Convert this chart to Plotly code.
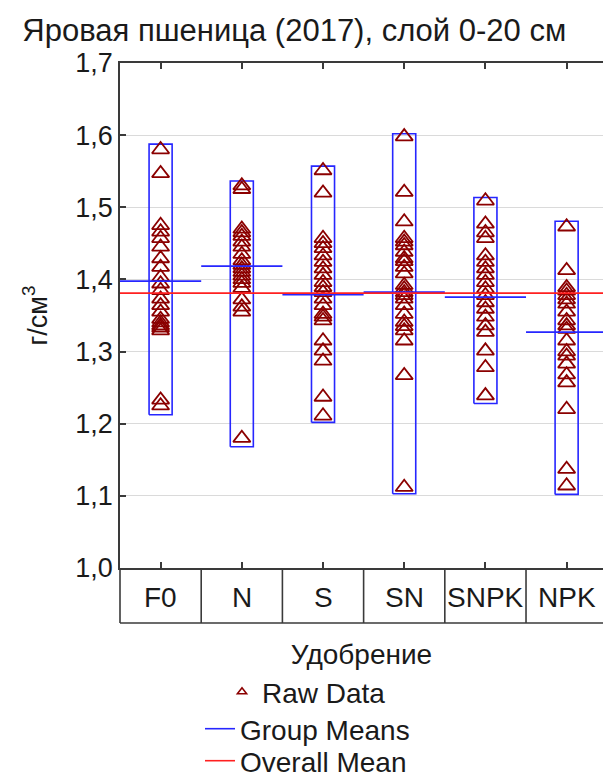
import plotly.graph_objects as go

# ---------------- data ----------------
categories = ["F0", "N", "S", "SN", "SNPK", "NPK"]

raw_F0 = [1.580, 1.547, 1.475, 1.466, 1.457, 1.445, 1.429, 1.417, 1.403, 1.394,
          1.385, 1.373, 1.364, 1.355, 1.345, 1.340, 1.336, 1.333, 1.329, 1.233, 1.225]
raw_N = [1.530, 1.525, 1.470, 1.465, 1.460, 1.452, 1.445, 1.435, 1.426, 1.420,
         1.415, 1.410, 1.405, 1.400, 1.395, 1.388, 1.372, 1.362, 1.355, 1.180]
raw_S = [1.551, 1.520, 1.457, 1.450, 1.443, 1.433, 1.424, 1.415, 1.406, 1.396,
         1.389, 1.382, 1.373, 1.364, 1.352, 1.348, 1.343, 1.315, 1.301, 1.287, 1.237, 1.211]
raw_SN = [1.598, 1.521, 1.480, 1.457, 1.452, 1.447, 1.438, 1.429, 1.425, 1.417, 1.408,
          1.392, 1.387, 1.382, 1.378, 1.373, 1.364, 1.352, 1.341, 1.335, 1.329, 1.315,
          1.267, 1.112]
raw_SNPK = [1.509, 1.477, 1.465, 1.457, 1.433, 1.424, 1.415, 1.406, 1.396, 1.387,
            1.378, 1.368, 1.359, 1.348, 1.336, 1.327, 1.301, 1.278, 1.239]
raw_NPK = [1.473, 1.4125, 1.389, 1.384, 1.378, 1.372, 1.366, 1.355, 1.343, 1.336,
           1.331, 1.315, 1.300, 1.294, 1.283, 1.268, 1.257, 1.220, 1.137, 1.114]

raw_data = [raw_F0, raw_N, raw_S, raw_SN, raw_SNPK, raw_NPK]

group_means = [1.3976, 1.4185, 1.379, 1.3824, 1.3755, 1.327]
box_low = [1.2125, 1.168, 1.2018, 1.103, 1.228, 1.102]
box_high = [1.5875, 1.5365, 1.557, 1.602, 1.5135, 1.4806]
overall_mean = 1.381

y_ticks = [1.0, 1.1, 1.2, 1.3, 1.4, 1.5, 1.6, 1.7]

# ---------------- styling ----------------
FONT = "Liberation Sans, Arial, sans-serif"
TXT = "#1a1a1a"
FRAME = "#3a3a3a"
RAW_COL = "#8b0000"
BLUE = "#2626ff"
RED = "#ff2020"

X_RANGE = [-0.5, 5.448]
BOX_HALF = 0.142

fig = go.Figure()

# range boxes
for i, cat in enumerate(categories):
    fig.add_trace(go.Scatter(
        x=[i - BOX_HALF, i + BOX_HALF, i + BOX_HALF, i - BOX_HALF, i - BOX_HALF],
        y=[box_low[i], box_low[i], box_high[i], box_high[i], box_low[i]],
        mode="lines", line=dict(color=BLUE, width=1.6),
        showlegend=False, hoverinfo="skip"))

# raw data
xs, ys = [], []
for i, vals in enumerate(raw_data):
    xs += [i] * len(vals)
    ys += vals
fig.add_trace(go.Scatter(
    x=xs, y=ys, mode="markers",
    marker=dict(symbol="triangle-up-open", size=15, color=RAW_COL,
                line=dict(width=1.8, color=RAW_COL)),
    showlegend=False, name="Raw Data"))

# group means
for i, m in enumerate(group_means):
    fig.add_trace(go.Scatter(
        x=[i - 0.5, i + 0.5], y=[m, m], mode="lines",
        line=dict(color=BLUE, width=1.6), showlegend=False, hoverinfo="skip"))

# overall mean
fig.add_trace(go.Scatter(
    x=[-0.5, 5.5], y=[overall_mean, overall_mean], mode="lines",
    line=dict(color=RED, width=1.6), showlegend=False, hoverinfo="skip"))

# legend-only traces
fig.add_trace(go.Scatter(
    x=[None], y=[None], mode="markers", name="Raw Data",
    marker=dict(symbol="triangle-up-open", size=8, color=RAW_COL,
                line=dict(width=1.6, color=RAW_COL)),
    legend="legend"))
fig.add_trace(go.Scatter(
    x=[None], y=[None], mode="lines", name="Group Means",
    line=dict(color=BLUE, width=1.6), legend="legend2"))
fig.add_trace(go.Scatter(
    x=[None], y=[None], mode="lines", name="Overall Mean",
    line=dict(color=RED, width=1.6), legend="legend3"))

# category table under the axis
PLOT_TOP, PLOT_BOT = 63, 568
plot_h = PLOT_BOT - PLOT_TOP
table_bottom = -(623 - PLOT_BOT) / plot_h
span = X_RANGE[1] - X_RANGE[0]
shapes = [dict(type="line", xref="paper", yref="paper", x0=0, x1=1,
               y0=table_bottom, y1=table_bottom, line=dict(color=FRAME, width=1.6))]
for k in range(len(categories) + 1):
    xp = (k - 0.5 - X_RANGE[0]) / span
    if xp > 1:
        continue
    shapes.append(dict(type="line", xref="paper", yref="paper", x0=xp, x1=xp,
                       y0=table_bottom, y1=0, line=dict(color=FRAME, width=1.6)))

annotations = []
for i, cat in enumerate(categories):
    annotations.append(dict(x=i, xref="x", y=-(597 - PLOT_BOT) / plot_h, yref="paper",
                            text=cat, showarrow=False, xanchor="center", yanchor="middle",
                            font=dict(family=FONT, size=28, color=TXT)))

def leg(xpx, ypx):
    return dict(x=(xpx - 120) / 483, y=(PLOT_BOT - ypx) / plot_h, xanchor="left",
                yanchor="middle", font=dict(family=FONT, size=28, color=TXT),
                bgcolor="rgba(0,0,0,0)", borderwidth=0)

fig.update_layout(
    width=603, height=778,
    margin=dict(l=120, r=0, t=PLOT_TOP, b=778 - PLOT_BOT, autoexpand=False),
    paper_bgcolor="white", plot_bgcolor="white",
    separators=", ",
    font=dict(family=FONT, color=TXT),
    title=dict(text="Яровая пшеница (2017), слой 0-20 см", x=0.488, xanchor="center",
               y=1 - 30 / 778, yanchor="middle", font=dict(family=FONT, size=31, color=TXT)),
    xaxis=dict(range=X_RANGE, tickvals=list(range(len(categories))), showticklabels=False,
               ticks="inside", ticklen=6, tickwidth=1.5, tickcolor=FRAME,
               showline=True, linecolor=FRAME, linewidth=1.6, mirror="ticks",
               showgrid=False, zeroline=False,
               title=dict(text="Удобрение", standoff=76,
                          font=dict(family=FONT, size=28, color=TXT))),
    yaxis=dict(range=[1.0, 1.7], tickvals=y_ticks, tickformat=".1f",
               ticks="inside", ticklen=6, tickwidth=1.5, tickcolor=FRAME,
               showline=True, linecolor=FRAME, linewidth=1.6,
               showgrid=True, gridcolor="#dadada", gridwidth=1, zeroline=False,
               tickfont=dict(family=FONT, size=27, color=TXT),
               title=dict(text="г/см<sup>3</sup>", standoff=20,
                          font=dict(family=FONT, size=27, color=TXT))),
    shapes=shapes, annotations=annotations,
    legend=leg(222, 692),
    legend2=leg(200, 729),
    legend3=leg(200, 761),
)

fig.write_html("out.html", config={"displayModeBar": False},
               post_script="document.body.style.margin='0';document.body.style.overflow='hidden';")
